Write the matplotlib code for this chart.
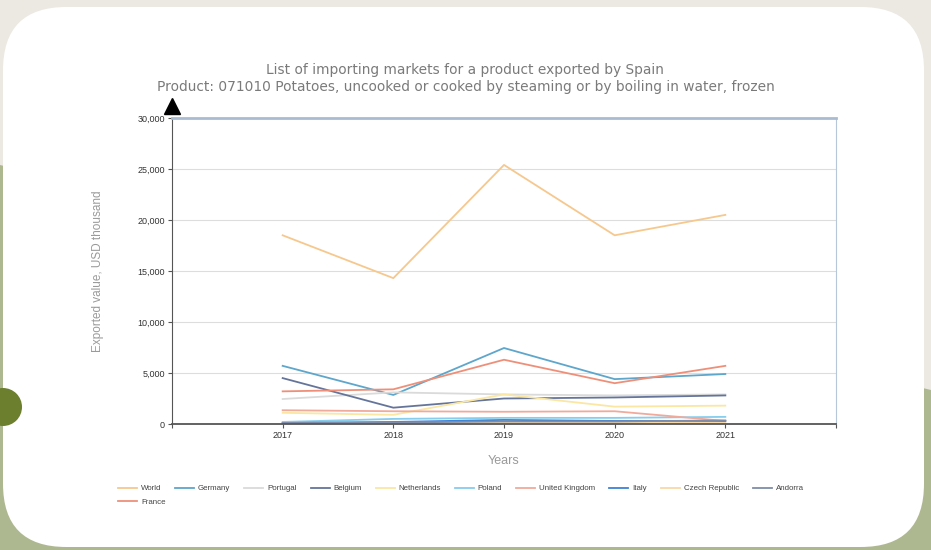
import matplotlib.pyplot as plt
from matplotlib.patches import FancyBboxPatch, Polygon, Ellipse
from matplotlib.ticker import FuncFormatter

years = [2017, 2018, 2019, 2020, 2021]

markets = ["World", "Germany", "Portugal", "Belgium", "Netherlands", "Poland",
           "United Kingdom", "Italy", "Czech Republic", "Andorra", "France"]

world = [18500, 14300, 25400, 18500, 20500]
germany = [5700, 2850, 7450, 4400, 4900]
portugal = [2450, 3100, 2900, 2800, 2900]
belgium = [4500, 1600, 2500, 2600, 2800]
netherlands = [1100, 900, 2900, 1700, 1800]
poland = [200, 500, 600, 600, 700]
united_kingdom = [1350, 1250, 1200, 1250, 300]
italy = [100, 200, 400, 300, 300]
czech_republic = [50, 100, 150, 150, 100]
andorra = [100, 150, 250, 250, 350]
france = [3200, 3400, 6300, 4000, 5700]

series = [world, germany, portugal, belgium, netherlands, poland,
          united_kingdom, italy, czech_republic, andorra, france]
colors = ["#F6C88E", "#5EA6CB", "#DADADA", "#65759A", "#FBE7A2", "#86CDEE",
          "#F0AA9C", "#3F82D6", "#F8D8A6", "#7F8DAA", "#EE9079"]

W, H = 931, 550
fig = plt.figure(figsize=(W / 100, H / 100), dpi=100)
fig.patch.set_facecolor("#ECE8E2")

# page background behind the card
fig.patches.append(Polygon([(0, 1 - 165 / H), (0, 0), (1, 0), (1, 1 - 390 / H)],
                           closed=True, transform=fig.transFigure,
                           facecolor="#AEB890", edgecolor="none", zorder=0))
card = FancyBboxPatch((3 / W, 3 / H), 921 / W, 540 / H,
                      boxstyle="round,pad=0,rounding_size=0.068",
                      transform=fig.transFigure, mutation_aspect=W / H,
                      facecolor="white", edgecolor="none", zorder=1)
fig.patches.append(card)
fig.patches.append(Ellipse((3 / W, 1 - 407 / H), 38 / W, 38 / H, transform=fig.transFigure,
                           facecolor="#6B7F2E", edgecolor="none", zorder=2))

ax = fig.add_axes([172 / W, 1 - 424 / H, (836 - 172) / W, (424 - 118) / H], zorder=3)
ax.set_facecolor("none")

for name, vals, c in zip(markets, series, colors):
    ax.plot(years, vals, color=c, lw=1.3, label=name)

ax.set_xlim(2016, 2022)
ax.set_ylim(0, 30000)
ax.set_yticks(range(0, 30001, 5000))
ax.yaxis.set_major_formatter(FuncFormatter(lambda v, p: f"{int(v):,}"))
ax.set_xticks(range(2016, 2023))
ax.set_xticklabels([""] + [str(y) for y in years] + [""])
ax.grid(axis="y", color="#DDDDDD", lw=0.8)
ax.set_axisbelow(True)

ax.tick_params(axis="both", labelsize=6.5, colors="#555555", labelcolor="#333333",
               length=3, width=0.8, pad=2)
for lab in ax.get_xticklabels() + ax.get_yticklabels():
    lab.set_fontfamily("Liberation Sans")

ax.spines["left"].set_color("#555555")
ax.spines["bottom"].set_color("#555555")
ax.spines["bottom"].set_linewidth(1.3)
ax.spines["top"].set_color("#A9BBD3")
ax.spines["top"].set_linewidth(2)
ax.spines["right"].set_color("#B8C6DA")

# arrow tip on the value axis
ax.plot(0, 1.04, marker="^", ms=11, color="black", transform=ax.transAxes,
        clip_on=False, zorder=5)

ax.set_ylabel("Exported value, USD thousand", fontsize=8.5, color="#9A9A9A",
              family="Liberation Sans", labelpad=24)
ax.set_xlabel("Years", fontsize=9, color="#9A9A9A", family="Liberation Sans", labelpad=11)

fig.text(465 / W, 1 - 70 / H, "List of importing markets for a product exported by Spain",
         ha="center", va="center", fontsize=9.9, color="#7A7A7A", zorder=4)
fig.text(466 / W, 1 - 87 / H,
         "Product: 071010 Potatoes, uncooked or cooked by steaming or by boiling in water, frozen",
         ha="center", va="center", fontsize=9.9, color="#7A7A7A", zorder=4)

handles, labels = ax.get_legend_handles_labels()
leg1 = fig.legend(handles[:10], labels[:10], ncol=10, loc="upper left",
                  bbox_to_anchor=(114 / W, 1 - 481 / H), frameon=False,
                  prop={"family": "Liberation Sans", "size": 5.7},
                  handlelength=2.4, handletextpad=0.5, columnspacing=1.75,
                  borderpad=0, labelcolor="#444444")
leg2 = fig.legend(handles[10:], labels[10:], loc="upper left",
                  bbox_to_anchor=(114 / W, 1 - 494 / H), frameon=False,
                  prop={"family": "Liberation Sans", "size": 5.7},
                  handlelength=2.4, handletextpad=0.5, borderpad=0,
                  labelcolor="#444444")
leg1.set_zorder(4)
leg2.set_zorder(4)

fig.savefig("out.png", dpi=100, facecolor=fig.get_facecolor())
